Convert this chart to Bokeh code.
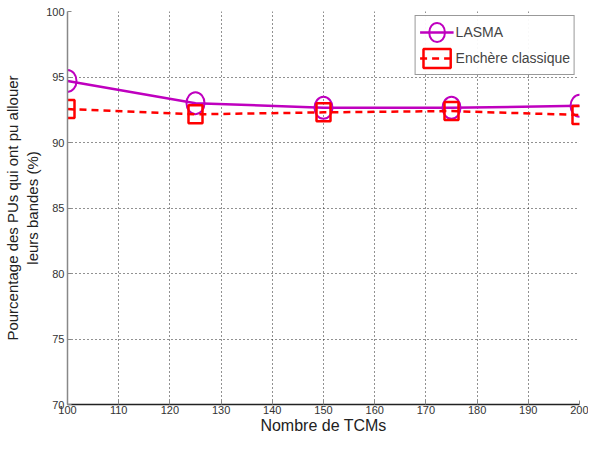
from bokeh.plotting import figure
from bokeh.models import Range1d, FixedTicker, Legend, LegendItem
from bokeh.embed import file_html
from bokeh.resources import INLINE

x_vals = [100, 125, 150, 175, 200]
lasma = [94.7, 93.0, 92.65, 92.65, 92.8]
enchere = [92.55, 92.15, 92.3, 92.4, 92.1]
x_ticks = [100, 110, 120, 130, 140, 150, 160, 170, 180, 190, 200]
y_ticks = [70, 75, 80, 85, 90, 95, 100]

p = figure(width=588, height=436, output_backend="svg", toolbar_location=None,
           x_range=Range1d(100, 200), y_range=Range1d(70, 100),
           min_border_left=67, min_border_right=9, min_border_top=11, min_border_bottom=28)
p.outline_line_color = None
p.background_fill_color = "white"

p.xaxis.ticker = FixedTicker(ticks=x_ticks)
p.yaxis.ticker = FixedTicker(ticks=y_ticks)
for ax in (p.xaxis[0], p.yaxis[0]):
    ax.major_label_text_font = "Liberation Sans"
    ax.major_label_text_font_size = "11px"
    ax.major_label_text_color = "#333333"
    ax.axis_label_text_font = "Liberation Sans"
    ax.axis_label_text_font_style = "normal"
    ax.axis_label_text_color = "#222222"
    ax.minor_tick_line_color = None
    ax.major_tick_in = 4
    ax.major_tick_out = 0
    ax.major_tick_line_color = "#888888"
p.xaxis.axis_label_text_font_size = "16px"
p.yaxis.axis_label_text_font_size = "15px"
p.xaxis.axis_line_color = "#222222"
p.yaxis.axis_line_color = "#888888"
p.xaxis.axis_line_width = 1.5
p.yaxis.axis_line_width = 1.5
p.xaxis.axis_label = "Nombre de TCMs"
p.yaxis.axis_label = "Pourcentage des PUs qui ont pu allouer\nleurs bandes (%)"
p.xaxis.major_label_standoff = 1
p.yaxis.major_label_standoff = 3
p.xaxis.axis_label_standoff = 0
p.yaxis.axis_label_standoff = 2

for g in (p.xgrid[0], p.ygrid[0]):
    g.grid_line_color = "#222222"
    g.grid_line_dash = "1 3"
    g.grid_line_width = 1

l1 = p.line(x_vals, lasma, line_color="#bf00bf", line_width=2.5)
s1 = p.ellipse(x_vals, lasma, width=18, height=22, width_units="screen",
               height_units="screen", fill_color=None, line_color="#bf00bf", line_width=2)
l2 = p.line(x_vals, enchere, line_color="#ff0000", line_width=2.5, line_dash="7 5")
s2 = p.rect(x_vals, enchere, width=14, height=18, width_units="screen",
            height_units="screen", fill_color=None, line_color="#ff0000", line_width=2.5)

legend = Legend(items=[LegendItem(label="LASMA", renderers=[l1, s1]),
                       LegendItem(label="Enchère classique", renderers=[l2, s2])],
                location="top_right")
legend.label_text_font = "Liberation Sans"
legend.label_text_font_size = "14px"
legend.border_line_color = "#333333"
legend.border_line_width = 1
legend.margin = 4
legend.padding = 4
legend.spacing = 2
legend.glyph_width = 34
legend.glyph_height = 24
legend.label_height = 24
legend.label_standoff = 2
p.add_layout(legend)

open("out.html", "w").write(file_html(p, INLINE))
